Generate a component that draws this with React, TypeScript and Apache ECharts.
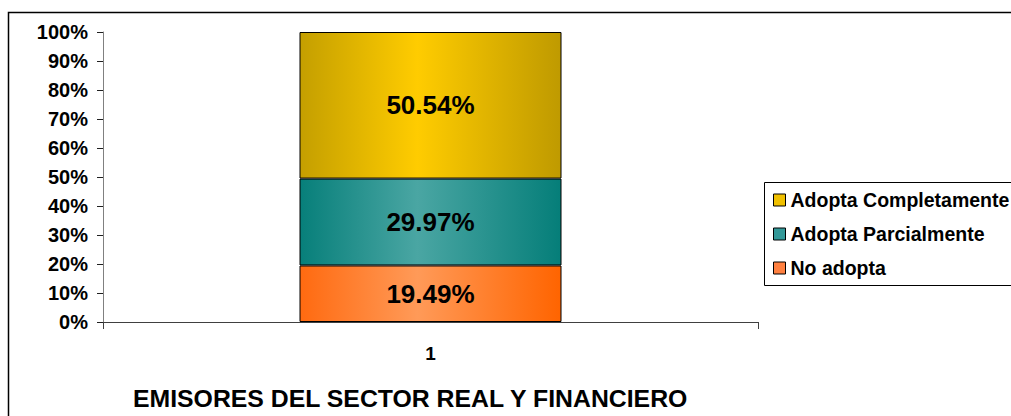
import React, { useEffect, useRef } from "react";
import * as echarts from "echarts";

const categories = ["1"];
const seriesNames = ["No adopta", "Adopta Parcialmente", "Adopta Completamente"];
const noAdopta = [19.49];
const parcial = [29.97];
const completa = [50.54];
const yTicks = [0, 10, 20, 30, 40, 50, 60, 70, 80, 90, 100];
const chartTitle = "EMISORES DEL SECTOR REAL Y FINANCIERO";

const FONT = '"Liberation Sans", Arial, sans-serif';

function grad(edgeL: string, mid: string, edgeR: string) {
  return new echarts.graphic.LinearGradient(0, 0, 1, 0, [
    { offset: 0, color: edgeL },
    { offset: 0.45, color: mid },
    { offset: 1, color: edgeR },
  ]);
}

export default function App() {
  const ref = useRef<HTMLDivElement>(null);
  useEffect(() => {
    if (!ref.current) return;
    const chart = echarts.init(ref.current, undefined, { renderer: "svg" });
    const label = {
      show: true,
      position: "inside" as const,
      color: "#000",
      fontFamily: FONT,
      fontWeight: "bold" as const,
      fontSize: 26,
      formatter: (p: any) => Number(p.value).toFixed(2) + "%",
    };
    const itemBase = { borderColor: "#000", borderWidth: 1 };
    chart.setOption({
      animation: false,
      backgroundColor: "#fff",
      grid: { left: 103, right: 253, top: 32, bottom: 94, containLabel: false },
      legend: {
        orient: "vertical",
        left: 764,
        top: 182,
        padding: [8, 0, 8, 9],
        itemWidth: 12,
        itemHeight: 12,
        itemGap: 14,
        borderWidth: 0,
        icon: "rect",
        textStyle: {
          color: "#000",
          fontFamily: FONT,
          fontWeight: "bold",
          fontSize: 19.5,
          lineHeight: 20,
        },
        data: [
          { name: seriesNames[2], itemStyle: { color: "#F0C000", borderColor: "#000", borderWidth: 1 } },
          { name: seriesNames[1], itemStyle: { color: "#339999", borderColor: "#000", borderWidth: 1 } },
          { name: seriesNames[0], itemStyle: { color: "#FF8040", borderColor: "#000", borderWidth: 1 } },
        ],
      },
      xAxis: {
        type: "category",
        data: categories,
        boundaryGap: true,
        axisLine: { show: true, lineStyle: { color: "#404040", width: 1 } },
        axisTick: { show: true, length: 7, alignWithLabel: false, lineStyle: { color: "#404040" } },
        axisLabel: {
          color: "#000",
          fontFamily: FONT,
          fontWeight: "bold",
          fontSize: 19,
          margin: 22,
        },
        splitLine: { show: false },
      },
      yAxis: {
        type: "value",
        min: yTicks[0],
        max: yTicks[yTicks.length - 1],
        interval: 10,
        axisLine: { show: true, lineStyle: { color: "#808080", width: 1 } },
        axisTick: { show: true, length: 6, lineStyle: { color: "#202020" } },
        axisLabel: {
          color: "#000",
          fontFamily: FONT,
          fontWeight: "bold",
          fontSize: 20,
          margin: 15,
          formatter: "{value}%",
        },
        splitLine: { show: false },
      },
      graphic: [
        {
          type: "polyline",
          silent: true,
          z: -10,
          shape: { points: [[1011, 12.5], [8.5, 12.5], [8.5, 416]] },
          style: { fill: "none", stroke: "#000", lineWidth: 1.5 },
        },
        {
          type: "rect",
          silent: true,
          z: -6,
          shape: { x: 764.5, y: 182.5, width: 260, height: 103 },
          style: { fill: "#fff", stroke: "none" },
        },
        {
          type: "polyline",
          silent: true,
          z: -5,
          shape: { points: [[1011, 182.5], [764.5, 182.5], [764.5, 285.5], [1011, 285.5]] },
          style: { fill: "none", stroke: "#000", lineWidth: 1 },
        },
        {
          type: "text",
          x: 133,
          y: 398,
          style: {
            text: chartTitle,
            fill: "#000",
            font: `bold 24.8px ${FONT}`,
            textVerticalAlign: "middle",
          },
        },
      ],
      series: [
        {
          name: seriesNames[0],
          type: "bar",
          stack: "total",
          barWidth: "40%",
          data: noAdopta,
          itemStyle: { ...itemBase, color: grad("#FF6A10", "#FF9A58", "#FF6400") },
          label,
        },
        {
          name: seriesNames[1],
          type: "bar",
          stack: "total",
          barWidth: "40%",
          data: parcial,
          itemStyle: { ...itemBase, color: grad("#077F7A", "#4AA6A3", "#057E79") },
          label,
        },
        {
          name: seriesNames[2],
          type: "bar",
          stack: "total",
          barWidth: "40%",
          data: completa,
          itemStyle: { ...itemBase, color: grad("#C49F00", "#FFCC00", "#BF9A00") },
          label,
        },
      ],
    });
    return () => chart.dispose();
  }, []);
  return (
    <div
      ref={ref}
      style={{ position: "fixed", left: 0, top: 0, width: 1011, height: 416 }}
    />
  );
}
